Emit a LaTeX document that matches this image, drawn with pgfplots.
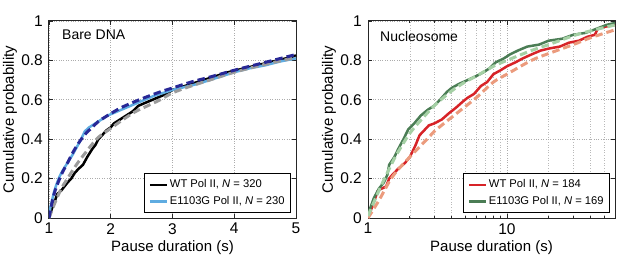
\documentclass[border=0pt]{standalone}
\usepackage{fontspec}
\setmainfont{Liberation Sans}
\usepackage{pgfplots}
\pgfplotsset{compat=1.18}
\definecolor{cblue}{RGB}{95,172,225}
\definecolor{cgray}{RGB}{155,155,155}
\definecolor{cnavy}{RGB}{40,40,150}
\definecolor{cred}{RGB}{215,35,40}
\definecolor{csalmon}{RGB}{235,155,125}
\definecolor{cdkgreen}{RGB}{75,125,85}
\definecolor{cltgreen}{RGB}{165,208,165}
\begin{document}
\fontsize{15}{17}\selectfont
\begin{tikzpicture}
\pgfplotsset{
  panel/.style={
    scale only axis, width=247pt, height=197pt, anchor=south west,
    ymin=0, ymax=1, ytick={0,0.2,0.4,0.6,0.8,1}, yticklabels={0,0.2,0.4,0.6,0.8,1},
    tick align=inside, major tick length=4pt, minor tick length=2pt,
    grid=major, grid style={dotted, gray!65, line width=0.6pt},
    axis line style={line width=1pt, black!85},
    tick style={black!85, line width=0.8pt},
    /pgf/number format/assume math mode=true,
    ticklabel style={font=\fontsize{15.5}{17}\selectfont},
    yticklabel style={xshift=-1pt},
    xticklabel style={yshift=0pt},
    label style={font=\fontsize{15.5}{17}\selectfont},
    xlabel={Pause duration (s)},
    ylabel={Cumulative probability},
    every axis y label/.style={at={(axis description cs:0,0.5)}, xshift=-39pt, rotate=90, anchor=center},
    every axis x label/.style={at={(axis description cs:0.5,0)}, yshift=-30pt, anchor=center},
    legend style={at={(axis description cs:1,0)}, anchor=south east, xshift=-5pt, yshift=5pt,
      font=\fontsize{11.2}{13}\selectfont, draw=black, line width=0.8pt, inner xsep=4pt, inner ysep=4pt, row sep=2pt},
    legend cell align=left,
    legend image post style={line width=2.2pt},
  },
  solid line/.style={line width=2.5pt, line join=round},
  fit line/.style={line width=3pt, dash pattern=on 7.5pt off 4pt},
}
\path[use as bounding box] (-49pt,-41pt) rectangle (568pt,218pt);
% Panel A
\begin{axis}[panel, at={(0pt,0pt)}, xmin=1, xmax=5, xtick={1,2,3,4,5}, xticklabels={1,2,3,4,5}]
\addplot[solid line, black] coordinates {
(1.00,0) (1.03,0.03) (1.06,0.06) (1.10,0.09) (1.13,0.12) (1.20,0.14) (1.25,0.16) (1.30,0.18)
(1.36,0.20) (1.42,0.23) (1.48,0.25) (1.55,0.27) (1.62,0.31) (1.70,0.35) (1.75,0.37) (1.80,0.40) (1.86,0.42)
(1.93,0.445) (2.00,0.46) (2.05,0.48) (2.15,0.50) (2.25,0.52) (2.35,0.54) (2.45,0.57) (2.60,0.59)
(2.75,0.61) (2.90,0.63) (3.00,0.65) (3.15,0.665) (3.30,0.68) (3.50,0.70) (3.70,0.72)
(3.90,0.74) (4.10,0.755) (4.30,0.77) (4.50,0.785) (4.70,0.80) (4.90,0.815) (5.00,0.825)};
\addlegendentry{WT Pol II, \textit{N} = 320}
\addplot[solid line, cblue] coordinates {
(1.00,0) (1.02,0.05) (1.05,0.09) (1.08,0.13) (1.12,0.17) (1.17,0.21) (1.22,0.24)
(1.30,0.28) (1.38,0.32) (1.45,0.36) (1.52,0.40) (1.58,0.44) (1.65,0.46) (1.75,0.48)
(1.85,0.50) (1.95,0.52) (2.10,0.54) (2.25,0.56) (2.40,0.58) (2.55,0.60) (2.70,0.62)
(2.85,0.635) (3.00,0.65) (3.20,0.665) (3.40,0.68) (3.60,0.70) (3.80,0.72) (4.00,0.74)
(4.25,0.76) (4.50,0.775) (4.75,0.795) (5.00,0.81)};
\addlegendentry{E1103G Pol II, \textit{N} = 230}
\addplot[fit line, cgray, forget plot, smooth] coordinates {
(1,0) (1.1,0.08) (1.2,0.15) (1.3,0.20) (1.4,0.25) (1.5,0.295) (1.6,0.335) (1.7,0.375)
(1.8,0.41) (2.0,0.455) (2.2,0.50) (2.4,0.54) (2.6,0.57) (2.8,0.60) (3.0,0.635)
(3.3,0.67) (3.6,0.70) (4.0,0.74) (4.5,0.78) (5.0,0.815)};
\addplot[fit line, cnavy, forget plot, smooth] coordinates {
(1,0) (1.05,0.08) (1.1,0.14) (1.2,0.22) (1.3,0.28) (1.4,0.34) (1.5,0.39) (1.6,0.43)
(1.7,0.46) (1.8,0.49) (2.0,0.53) (2.2,0.565) (2.5,0.605) (2.8,0.64) (3.0,0.66)
(3.3,0.69) (3.6,0.715) (4.0,0.75) (4.5,0.79) (5.0,0.83)};
\node[anchor=west, font=\fontsize{14}{16}\selectfont] at ([xshift=8pt,yshift=-14pt]axis description cs:0,1) {Bare DNA};
\node[anchor=north west, inner sep=0pt, font=\fontsize{17}{19}\selectfont\bfseries] at ([xshift=-47pt,yshift=15pt]axis description cs:0,1) {A};
\end{axis}
% Panel B
\begin{axis}[panel, at={(319pt,0pt)}, xmode=log, xmin=1, xmax=60, xtick={1,10}, xticklabels={1,10},
  minor xtick={2,3,4,5,6,7,8,9,20,30,40,50}, grid=both,
  minor grid style={dotted, gray!55, line width=0.6pt}]
\addplot[solid line, cred] coordinates {
(1.00,0) (1.05,0.04) (1.10,0.08) (1.18,0.14) (1.35,0.16) (1.42,0.20) (1.50,0.22) (1.65,0.25)
(1.85,0.28) (2.00,0.31) (2.10,0.34) (2.20,0.37) (2.35,0.42) (2.50,0.44) (2.74,0.47)
(3.00,0.48) (3.40,0.50) (3.80,0.53) (4.30,0.56) (4.80,0.59) (5.20,0.61) (5.80,0.63)
(6.50,0.67) (7.20,0.69) (8.00,0.73) (9.00,0.75) (10.0,0.77) (11.5,0.79) (13.0,0.81)
(15.0,0.83) (17.5,0.85) (20.0,0.86) (24.0,0.87) (28.0,0.89) (33.0,0.90) (38.0,0.92)
(43.0,0.93) (45.0,0.96) (50.0,0.97) (60.0,0.98)};
\addlegendentry{WT Pol II, \textit{N} = 184}
\addplot[solid line, cdkgreen] coordinates {
(1.00,0.02) (1.05,0.06) (1.10,0.10) (1.20,0.15) (1.30,0.18) (1.38,0.22) (1.42,0.27)
(1.55,0.31) (1.65,0.35) (1.80,0.40) (1.95,0.45) (2.15,0.48) (2.40,0.52) (2.70,0.55)
(3.00,0.57) (3.30,0.60) (3.70,0.64) (4.00,0.66) (4.50,0.68) (5.20,0.70) (6.00,0.72)
(6.80,0.74) (7.50,0.76) (8.30,0.79) (9.50,0.81) (10.5,0.83) (12.0,0.85) (14.0,0.87)
(17.0,0.88) (20.0,0.90) (25.0,0.91) (30.0,0.93) (37.0,0.94) (44.0,0.96) (52.0,0.98)
(60.0,0.99)};
\addlegendentry{E1103G Pol II, \textit{N} = 169}
\addplot[fit line, csalmon, forget plot, smooth] coordinates {
(1,0) (1.2,0.09) (1.5,0.21) (2,0.31) (2.66,0.40) (3,0.44) (4.15,0.52) (6,0.61)
(8,0.69) (10,0.73) (15,0.80) (20,0.835) (30,0.88) (40,0.915) (60,0.955)};
\addplot[fit line, cltgreen, forget plot, smooth] coordinates {
(1,0.01) (1.2,0.14) (1.4,0.24) (1.6,0.32) (2,0.43) (2.5,0.51) (3,0.57) (4,0.645)
(5,0.69) (6,0.72) (8,0.77) (10,0.80) (15,0.85) (20,0.88) (30,0.925) (40,0.95) (60,0.98)};
\node[anchor=west, font=\fontsize{14}{16}\selectfont] at ([xshift=7pt,yshift=-15pt]axis description cs:0,1) {Nucleosome};
\node[anchor=north west, inner sep=0pt, font=\fontsize{17}{19}\selectfont\bfseries] at ([xshift=-48pt,yshift=15pt]axis description cs:0,1) {B};
\end{axis}
\end{tikzpicture}
\end{document}
